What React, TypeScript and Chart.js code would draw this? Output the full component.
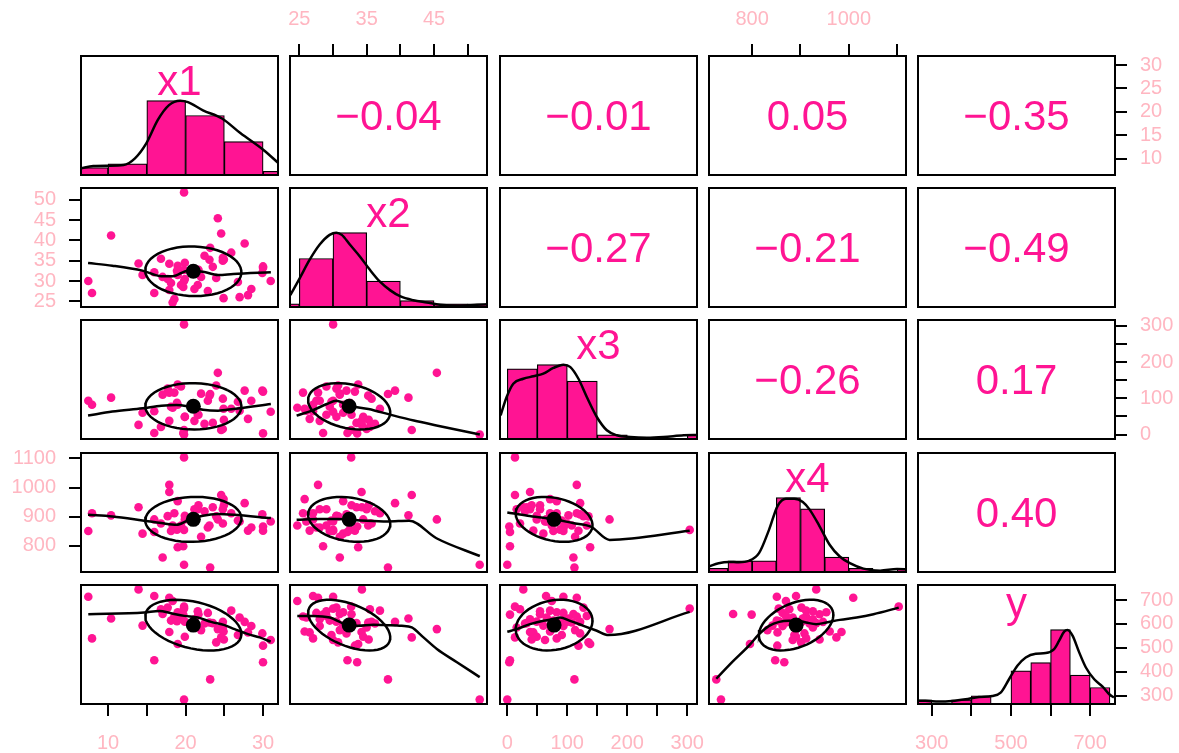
import React, { useEffect, useRef } from "react";
import { Chart, registerables } from "chart.js";

Chart.register(...registerables);

// ---------------- data ----------------
const varNames = ["x1", "x2", "x3", "x4", "y"];

const x1Vals = [13.93, 15.96, 7.45, 17.9, 18.33, 19.8, 17.69, 19.8, 16.82, 25.89, 21.57, 18.98, 22.87, 17.04, 19.7, 21.66, 19.41, 18.55, 26.97, 10.39, 21.14, 18.12, 18.89, 27.62, 23.08, 23.51, 19.9, 24.81, 22.44, 14.45, 28.48, 24.8, 24.16, 22.0, 24.9, 17.9, 28.05, 29.9, 26.75, 24.59, 19.9, 7.93, 24.94, 30.98, 23.95, 18.98, 29.99, 15.96, 29.99, 23.17, 19.8];
const x2Vals = [34.29, 27.04, 30.02, 27.78, 24.7, 32.7, 30.51, 30.02, 35.48, 36.97, 29.02, 31.51, 27.53, 31.01, 28.53, 32.75, 29.02, 25.55, 26.04, 41.2, 28.03, 29.52, 32.5, 39.21, 35.23, 33.49, 30.51, 35.73, 36.23, 31.51, 28.03, 34.99, 45.42, 31.01, 25.79, 34.24, 26.54, 32.0, 29.77, 41.69, 34.49, 27.04, 35.3, 30.02, 30.76, 33.74, 33.25, 32.15, 33.59, 38.16, 51.78];
const x3Vals = [26.7, 64.6, 93.5, 115.8, 74.1, 12.8, 126.9, 304.0, 21.2, 71.3, 54.6, 82.4, 93.5, 110.2, 4.5, 54.6, 132.5, 115.8, 65.7, 101.9, 37.9, 76.8, 88.0, 121.4, 107.5, 32.3, 49.0, 99.1, 29.5, 60.1, 93.5, 15.6, 170.4, 113.0, 71.3, 37.9, 43.4, 121.4, 90.8, 12.8, 49.0, 82.4, 40.6, 62.9, 135.3, 138.1, 118.6, 4.5, 3.3, 111.9, 0];
const x4Vals = [932.6, 890.8, 851.1, 1009.1, 869.9, 1103.1, 902.0, 855.0, 876.9, 911.7, 925.6, 953.4, 863.0, 760.7, 799.0, 939.5, 869.9, 911.7, 883.9, 904.7, 925.6, 851.0, 856.0, 946.5, 869.9, 932.6, 903.0, 876.9, 918.6, 842.1, 863.0, 925.6, 890.8, 831.7, 960.4, 984.8, 852.5, 908.2, 887.3, 974.3, 890.8, 911.7, 939.5, 883.9, 901.3, 795.5, 852.0, 847.7, 866.5, 725.9, 735.6];
const yVals = [744.3, 716.6, 713.8, 709.7, 695.9, 672.3, 668.2, 664.0, 661.3, 655.5, 652.8, 648.5, 646.0, 641.8, 638.9, 640.5, 633.6, 630.8, 626.7, 622.5, 619.8, 614.0, 611.5, 608.7, 606.0, 603.5, 609.5, 608.7, 601.8, 593.0, 591.0, 585.2, 578.3, 574.1, 568.3, 566.0, 564.5, 560.3, 553.4, 543.7, 546.5, 539.6, 535.2, 533.0, 523.0, 516.0, 509.1, 448.3, 440.0, 368.1, 283.7];

// ellipse parameters (mean, sd) and correlations shown in the upper panels
const means = [21.0, 32.4, 78, 891, 595];
const sds = [6.2, 6.1, 64, 77, 106];
const corr = [
  [1, -0.04, -0.01, 0.05, -0.35],
  [-0.04, 1, -0.27, -0.21, -0.49],
  [-0.01, -0.27, 1, -0.26, 0.17],
  [0.05, -0.21, -0.26, 1, 0.4],
  [-0.35, -0.49, 0.17, 0.4, 1],
];

// histogram bins and counts
const x1Breaks = [5, 10, 15, 20, 25, 30, 35];
const x1Counts = [2, 3, 20, 16, 9, 1];
const x2Breaks = [20, 25, 30, 35, 40, 45, 50, 55];
const x2Counts = [1, 15, 23, 8, 2, 1, 1];
const x3Breaks = [0, 50, 100, 150, 200, 250, 300, 350];
const x3Counts = [17, 18, 14, 1, 0, 0, 1];
const x4Breaks = [700, 750, 800, 850, 900, 950, 1000, 1050, 1100, 1150];
const x4Counts = [1, 3, 3, 20, 17, 4, 1, 0, 1];
const yBreaks = [250, 300, 350, 400, 450, 500, 550, 600, 650, 700, 750];
const yCounts = [1, 0, 1, 2, 0, 8, 10, 18, 7, 4];

// density curves (x, height relative to max)
const densX1 = [[6.45, 0.09], [8.1, 0.12], [10.05, 0.125], [12.0, 0.134], [13.47, 0.224], [14.93, 0.425], [16.4, 0.738], [17.86, 0.94], [19.3, 1.0], [20.3, 0.98], [22.24, 0.87], [24.7, 0.76], [27.1, 0.56], [30.05, 0.336], [32.0, 0.157]];
const densX2 = [[23.66, 0.16], [25.05, 0.386], [26.54, 0.636], [28.03, 0.84], [29.5, 0.97], [30.5, 1.0], [31.3, 0.97], [32.5, 0.84], [33.99, 0.68], [35.48, 0.5], [36.97, 0.34], [38.46, 0.227], [39.95, 0.145], [41.94, 0.09], [43.93, 0.06], [45.91, 0.03], [48.9, 0.018], [51.38, 0.03], [53.06, 0.036]];
const densX3 = [[-11.1, 0.318], [-1.1, 0.565], [10, 0.744], [26.7, 0.81], [43.4, 0.843], [60.1, 0.879], [76.8, 0.955], [93.5, 1.0], [104.7, 0.97], [118.6, 0.81], [132.5, 0.565], [149.2, 0.296], [165.9, 0.117], [182.6, 0.05], [204.9, 0.027], [232.7, 0.018], [260.6, 0.027], [294, 0.05], [318.5, 0.054]];
const densX4 = [[709.8, 0.072], [730.7, 0.118], [751.6, 0.136], [772.4, 0.131], [793.3, 0.149], [814.2, 0.253], [835.1, 0.57], [852.5, 0.887], [869.9, 0.986], [887.3, 0.986], [904.8, 0.941], [918.6, 0.842], [939.5, 0.615], [960.3, 0.367], [981.2, 0.208], [1002.1, 0.118], [1030, 0.045], [1064.7, 0.018], [1099.6, 0.04], [1123, 0.036]];
const densY = [[260.5, 0.045], [284.1, 0.045], [317.9, 0.032], [351.6, 0.04], [385.4, 0.063], [419.2, 0.095], [452.9, 0.108], [474, 0.153], [495.1, 0.333], [516.2, 0.514], [537.3, 0.626], [562.6, 0.676], [587.9, 0.685], [609, 0.739], [621.7, 0.851], [634.4, 0.973], [642.8, 0.995], [655.5, 0.919], [672.3, 0.694], [689.2, 0.491], [710.3, 0.333], [731.4, 0.234], [748.3, 0.131], [760, 0.086]];

// smoothed fits (x of column variable, y of row variable)
const loX1X2 = [[7.42, 34.42], [10.55, 33.77], [14.44, 32.55], [16.88, 31.17], [18.35, 31.17], [20.3, 32.55], [22.24, 32.3], [24.2, 31.5], [26.15, 31.74], [31.0, 32.15]];
const loX1X3 = [[7.42, 52.5], [10.55, 63.4], [14.44, 72.6], [16.88, 79.7], [18.83, 81.6], [20.3, 78], [22.24, 68.8], [24.2, 66.1], [26.15, 70.7], [31.0, 84.3]];
const loX2X3 = [[24.6, 52.5], [26.85, 66.1], [29.08, 84.3], [30.49, 93.3], [32.45, 79.7], [35.26, 70.7], [38.63, 54.4], [42.0, 38.9], [45.36, 25.3], [51.8, 0]];
const loX1X4 = [[7.42, 906.9], [10.55, 901.1], [14.44, 887.4], [16.88, 878.2], [18.83, 872.4], [20.3, 887.4], [22.24, 903.4], [24.2, 909.2], [26.15, 906.9], [31.0, 895.4]];
const loX2X4 = [[24.6, 889.7], [27.97, 892], [30.77, 892], [34.14, 887.4], [38.07, 883.9], [41.32, 886.2], [45.36, 826.4], [51.8, 765.5]];
const loX3X4 = [[0, 914.8], [33.8, 903.4], [76.6, 892], [109.3, 878.3], [139.2, 866], [170.6, 820.7], [304, 851.7]];
const loX1Y = [[7.45, 640.5], [14.66, 647.4], [16.61, 654.4], [18.12, 644.7], [19.84, 633.6], [21.57, 626.7], [23.3, 608.7], [25.03, 594.9], [26.32, 578.3], [28.05, 557.5], [29.56, 543.7], [30.98, 525.7]];
const loX2Y = [[24.7, 633.6], [27.04, 633.6], [29.52, 626.7], [31.01, 608.7], [32.25, 592.1], [33.74, 592.1], [35.98, 596.3], [37.97, 594.9], [40.2, 592.1], [41.69, 585.2], [43.43, 543.7], [45.42, 495.3], [48.4, 440], [51.78, 377.8]];
const loX3Y = [[0, 567.2], [15.6, 578.3], [37.9, 599], [60.1, 612.9], [76.8, 619.8], [88, 626.7], [104.7, 612.9], [126.9, 592.1], [149.2, 571.4], [168.7, 553.4], [304, 650.2]];
const loX4Y = [[725.9, 370.8], [758.6, 440], [793.4, 509.1], [814.3, 557.5], [835.1, 592.1], [856, 608.7], [876.9, 612.9], [894.3, 612.9], [911.7, 606], [932.6, 599], [953.4, 606], [981.3, 617], [1016.1, 626.7], [1050.9, 640.5], [1103.1, 668.2]];

// axis ticks and labels
const x1Ticks = [10, 15, 20, 25, 30];
const x1LabelsH = ["10", "", "20", "", "30"];
const x1LabelsV = ["10", "15", "20", "25", "30"];
const x2Ticks = [25, 30, 35, 40, 45, 50];
const x2LabelsH = ["25", "", "35", "", "45", ""];
const x2LabelsV = ["25", "30", "35", "40", "45", "50"];
const x3Ticks = [0, 50, 100, 150, 200, 250, 300];
const x3LabelsH = ["0", "", "100", "", "200", "", "300"];
const x3LabelsV = ["0", "", "100", "", "200", "", "300"];
const x4Ticks = [800, 900, 1000, 1100];
const x4LabelsH = ["800", "", "1000", ""];
const x4LabelsV = ["800", "900", "1000", "1100"];
const yTicks = [300, 400, 500, 600, 700];
const yLabelsH = ["300", "", "500", "", "700"];
const yLabelsV = ["300", "400", "500", "600", "700"];

// ---------------- derived ----------------
const allVars = [x1Vals, x2Vals, x3Vals, x4Vals, yVals];
const ranges = allVars.map((v) => {
  const lo = Math.min(...v);
  const hi = Math.max(...v);
  const d = (hi - lo) * 0.04;
  return [lo - d, hi + d];
});
const tickSets = [x1Ticks, x2Ticks, x3Ticks, x4Ticks, yTicks];
const hLabels = [x1LabelsH, x2LabelsH, x3LabelsH, x4LabelsH, yLabelsH];
const vLabels = [x1LabelsV, x2LabelsV, x3LabelsV, x4LabelsV, yLabelsV];
const breaksAll = [x1Breaks, x2Breaks, x3Breaks, x4Breaks, yBreaks];
const countsAll = [x1Counts, x2Counts, x3Counts, x4Counts, yCounts];
const densAll = [densX1, densX2, densX3, densX4, densY];
const smooths: Record<string, number[][]> = {
  "1-0": loX1X2, "2-0": loX1X3, "2-1": loX2X3, "3-0": loX1X4, "3-1": loX2X4,
  "3-2": loX3X4, "4-0": loX1Y, "4-1": loX2Y, "4-2": loX3Y, "4-3": loX4Y,
};

// ---------------- styling / layout ----------------
const PINK = "#FF1493";
const LABEL_PINK = "#FFB6C1";
const FONT = '"Liberation Sans", Arial, Helvetica, sans-serif';
const PANEL_LEFT = [81, 290, 500, 709, 918];
const PANEL_TOP = [56, 188, 320, 453, 585];
const PANEL_W = 197;
const PANEL_H = 119;
const M = 75;
const LINE_W = 2.5;

function ellipsePoints(c: number, r: number) {
  const rho = corr[r][c];
  const th = 1 / Math.sqrt(2);
  const a1 = Math.sqrt(1 + rho) * th;
  const a2 = Math.sqrt(1 - rho) * th;
  const pts: { x: number; y: number }[] = [];
  const seg = 51;
  for (let k = 0; k <= seg; k++) {
    const ang = (k * 2 * Math.PI) / seg;
    const cs = Math.cos(ang);
    const sn = Math.sin(ang);
    pts.push({ x: means[c] + sds[c] * (cs * a1 - sn * a2), y: means[r] + sds[r] * (cs * a1 + sn * a2) });
  }
  return pts;
}

function axisScale(range: number[], ticksArr: number[], labels: string[], position: string, show: boolean, pad: number) {
  const horizontal = position === "top" || position === "bottom";
  return {
    type: "linear",
    min: range[0],
    max: range[1],
    offset: false,
    position,
    display: show,
    afterBuildTicks: (s: any) => {
      s.ticks = ticksArr.map((v) => ({ value: v }));
    },
    afterFit: (s: any) => {
      const size = show ? M : 0;
      if (horizontal) s.height = size;
      else s.width = size;
    },
    ticks: {
      autoSkip: false,
      maxRotation: 0,
      minRotation: 0,
      padding: pad,
      color: LABEL_PINK,
      font: { family: FONT, size: 20 },
      callback: (_v: any, i: number) => labels[i],
    },
    grid: {
      display: true,
      offset: false,
      drawOnChartArea: false,
      drawTicks: true,
      tickLength: 12,
      tickWidth: 2,
      lineWidth: 2,
      tickColor: "#000",
      color: "#000",
    },
    border: { display: false },
  };
}

function fmtCorr(v: number) {
  return v.toFixed(2).replace("-", "\u2212");
}

function buildConfig(r: number, c: number): any {
  const hasTop = r === 0 && (c === 1 || c === 3);
  const hasBottom = r === 4 && c % 2 === 0;
  const hasLeft = c === 0 && (r === 1 || r === 3);
  const hasRight = c === 4 && r % 2 === 0;

  const scales: any = {
    x: axisScale(ranges[c], tickSets[c], hLabels[c], hasTop ? "top" : "bottom", hasTop || hasBottom, hasTop ? 13 : 15),
    y: axisScale(ranges[r], tickSets[r], vLabels[r], hasLeft ? "left" : "right", hasLeft || hasRight, 13),
  };

  const datasets: any[] = [];
  let text = "";
  let textMode = "";

  if (r === c) {
    scales.yh = { type: "linear", min: 0, max: 1.6, offset: false, display: false };
    const br = breaksAll[c];
    const ct = countsAll[c];
    const mx = Math.max(...ct);
    datasets.push({
      type: "line",
      data: densAll[c].map(([x, h]) => ({ x, y: h })),
      yAxisID: "yh",
      showLine: true,
      borderColor: "#000",
      borderWidth: LINE_W,
      pointRadius: 0,
      fill: false,
      cubicInterpolationMode: "monotone",
      clip: 0,
      order: 1,
    });
    datasets.push({
      type: "bar",
      data: ct.map((n, i) => ({ x: (br[i] + br[i + 1]) / 2, y: n / mx })),
      yAxisID: "yh",
      backgroundColor: PINK,
      borderColor: "#000",
      borderWidth: 1.2,
      borderSkipped: false,
      barPercentage: 1,
      categoryPercentage: 1,
      clip: 0,
      order: 2,
    });
    text = varNames[c];
    textMode = "label";
  } else if (r > c) {
    const xs = allVars[c];
    const ys = allVars[r];
    datasets.push({
      type: "scatter",
      data: xs.map((xv, i) => ({ x: xv, y: ys[i] })),
      pointRadius: 4.3,
      pointBackgroundColor: PINK,
      pointBorderWidth: 0,
      showLine: false,
      clip: 0,
      order: 4,
    });
    datasets.push({
      type: "line",
      data: smooths[`${r}-${c}`].map(([x, y]) => ({ x, y })),
      showLine: true,
      borderColor: "#000",
      borderWidth: LINE_W,
      pointRadius: 0,
      fill: false,
      cubicInterpolationMode: "monotone",
      clip: 0,
      order: 3,
    });
    datasets.push({
      type: "line",
      data: ellipsePoints(c, r),
      showLine: true,
      borderColor: "#000",
      borderWidth: LINE_W,
      pointRadius: 0,
      fill: false,
      tension: 0,
      clip: 0,
      order: 2,
    });
    datasets.push({
      type: "scatter",
      data: [{ x: means[c], y: means[r] }],
      pointRadius: 7.5,
      pointBackgroundColor: "#000",
      pointBorderWidth: 0,
      showLine: false,
      clip: 0,
      order: 1,
    });
  } else {
    text = fmtCorr(corr[r][c]);
    textMode = "corr";
  }

  const deco = {
    id: "deco" + r + c,
    afterDatasetsDraw(chart: any) {
      if (!text) return;
      const { ctx, chartArea } = chart;
      ctx.save();
      ctx.font = `42px ${FONT}`;
      ctx.fillStyle = PINK;
      ctx.textAlign = "center";
      ctx.textBaseline = "alphabetic";
      const m = ctx.measureText(text);
      const cx = (chartArea.left + chartArea.right) / 2;
      const cy = textMode === "label" ? chartArea.top + 24.5 : (chartArea.top + chartArea.bottom) / 2;
      const yb = cy + (m.actualBoundingBoxAscent - m.actualBoundingBoxDescent) / 2;
      ctx.fillText(text, cx, yb);
      ctx.restore();
    },
    afterDraw(chart: any) {
      const { ctx, chartArea } = chart;
      ctx.save();
      ctx.strokeStyle = "#000";
      ctx.lineWidth = 2;
      ctx.strokeRect(chartArea.left, chartArea.top, chartArea.right - chartArea.left, chartArea.bottom - chartArea.top);
      ctx.restore();
    },
  };

  return {
    type: "scatter",
    data: { datasets },
    options: {
      responsive: false,
      maintainAspectRatio: false,
      devicePixelRatio: 1,
      animation: false,
      events: [],
      layout: {
        padding: {
          left: hasLeft ? 0 : M,
          right: hasRight ? 0 : M,
          top: hasTop ? 0 : M,
          bottom: hasBottom ? 0 : M,
        },
      },
      plugins: { legend: { display: false }, tooltip: { enabled: false }, title: { display: false } },
      scales,
    },
    plugins: [deco],
  };
}

function Panel({ r, c }: { r: number; c: number }) {
  const ref = useRef<HTMLCanvasElement | null>(null);
  useEffect(() => {
    if (!ref.current) return;
    const chart = new Chart(ref.current, buildConfig(r, c));
    return () => chart.destroy();
  }, [r, c]);
  const w = PANEL_W + 2 * M;
  const h = PANEL_H + 2 * M;
  return (
    <canvas
      ref={ref}
      width={w}
      height={h}
      style={{ position: "absolute", left: PANEL_LEFT[c] - M, top: PANEL_TOP[r] - M, width: w, height: h }}
    />
  );
}

export default function App() {
  const cells: { r: number; c: number }[] = [];
  for (let r = 0; r < 5; r++) for (let c = 0; c < 5; c++) cells.push({ r, c });
  return (
    <div
      style={{
        position: "absolute",
        left: 0,
        top: 0,
        width: 1179,
        height: 753,
        overflow: "hidden",
        background: "#fff",
      }}
    >
      {cells.map(({ r, c }) => (
        <Panel key={`${r}-${c}`} r={r} c={c} />
      ))}
    </div>
  );
}
